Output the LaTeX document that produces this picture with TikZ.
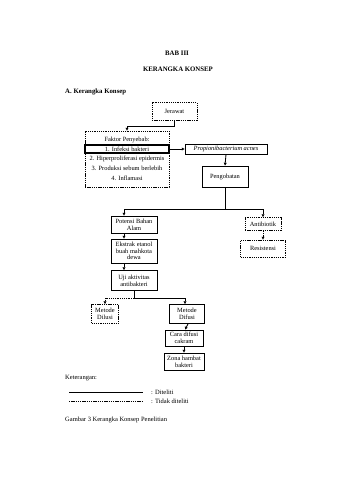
\documentclass[tikz,border=0pt]{standalone}
\usepackage{fontspec}
\setmainfont{Liberation Serif}
\usetikzlibrary{arrows.meta,calc}
\newcommand\dtext{\fontsize{6.4}{6.7}\selectfont}
\newcommand\htext{\fontsize{6.8}{7.5}\selectfont}
\newcommand\ltext{\fontsize{6.5}{7}\selectfont}
\tikzset{
  solidbox/.style={draw, line width=0.85pt, align=center, inner sep=0.5pt, font=\dtext},
  dashbox/.style={draw, line width=0.85pt, dash pattern=on 1.3pt off 0.9pt, align=center, inner sep=0.5pt, font=\dtext},
  lbl/.style={inner sep=0pt, font=\dtext},
  conn/.style={line width=0.85pt, -{Triangle[length=2.8pt,width=2.8pt]}},
  dconn/.style={conn, dash pattern=on 1.3pt off 0.9pt},
  plain/.style={line width=0.85pt},
  dplain/.style={line width=0.85pt, dash pattern=on 1.3pt off 0.9pt}
}
\begin{document}
\begin{tikzpicture}[x=1pt,y=-1pt]
\useasboundingbox[fill=white] (0,0) rectangle (339,480);
% headings
\node[inner sep=0pt, font=\htext\bfseries] (bab) at (177,53) {BAB III};
\node[inner sep=0pt, font=\htext\bfseries] (kk) at (178,69) {KERANGKA KONSEP};
\node[inner sep=0pt, font=\htext\bfseries, anchor=west] (ak) at (65,92) {A. Kerangka Konsep};
% top part
\node[dashbox, minimum width=45pt, minimum height=18pt] (jerawat) at (174.5,111.5) {Jerawat};
\node[dashbox, minimum width=84pt, minimum height=56pt] (faktor) at (127,159) {};
\node[lbl] (fp) at (127,139.5) {Faktor Penyebab:};
\node[solidbox, line width=1.3pt, minimum width=84pt, minimum height=8pt] (infeksi) at (127,149) {1. Infeksi bakteri};
\node[lbl] (hip) at (127,159) {2. Hiperproliferasi epidermis};
\node[lbl] (prod) at (127,168.5) {3. Produksi sebum berlebih};
\node[lbl] (infl) at (127,178) {4. Inflamasi};
\node[solidbox, minimum width=82pt, minimum height=10pt, font=\dtext\itshape] (prop) at (226,149) {Propionibacterium acnes};
\node[solidbox, minimum width=46pt, minimum height=21pt] (peng) at (225,176.5) {Pengobatan};
% left branch
\node[solidbox, minimum width=46pt, minimum height=17pt] (potensi) at (134,224.5) {Potensi Bahan\\Alam};
\node[solidbox, minimum width=46pt, minimum height=24pt] (ekstrak) at (134,251) {Ekstrak etanol\\buah mahkota\\dewa};
\node[solidbox, minimum width=46pt, minimum height=20pt] (uji) at (134,280.5) {Uji aktivitas\\antibakteri};
\node[dashbox, minimum width=27pt, minimum height=19pt] (dilusi) at (105,314) {Metode\\Dilusi};
\node[solidbox, minimum width=35pt, minimum height=19pt] (difusi) at (187,314) {Metode\\Difusi};
\node[solidbox, minimum width=38pt, minimum height=16pt] (cara) at (184,338) {Cara difusi\\cakram};
\node[solidbox, minimum width=40pt, minimum height=17pt] (zona) at (184,361.5) {Zona hambat\\bakteri};
% right branch
\node[dashbox, minimum width=36pt, minimum height=13pt] (antib) at (263,224) {Antibiotik};
\node[dashbox, minimum width=45pt, minimum height=17pt] (resist) at (263,248.5) {Resistensi};
% connectors
\draw[conn] (jerawat.south) -- ++(0,5) -| (faktor.north);
\draw[conn] (infeksi.east) -- (prop.west);
\draw[conn] (prop.south) -- (peng.north);
\draw[plain] (peng.south) -- ++(0,22) coordinate (pj);
\draw[conn] (pj) -| ([xshift=-10pt]potensi.north);
\draw[conn] (pj) -| (antib.north);
\draw[conn] ([xshift=-10pt]potensi.south) -- ([xshift=-10pt]ekstrak.north);
\draw[conn] ([xshift=-10pt]ekstrak.south) -- ([xshift=-10pt]uji.north);
\draw[plain] (uji.south) -- ++(0,7) coordinate (uj);
\draw[conn] (uj) -| ([xshift=-2pt]difusi.north);
\draw[dconn] (uj) -| (dilusi.north);
\draw[conn] ([xshift=1pt]difusi.south) -- ([xshift=1pt]cara.north);
\draw[conn] (cara.south) -- (zona.north);
\draw[dconn] (antib.south) -- (resist.north);
% legend
\node[inner sep=0pt, font=\ltext, anchor=west] (ket) at (65,378) {Keterangan:};
\coordinate (la) at (69,392);
\coordinate (lb) at (143,392);
\coordinate (lc) at (69,401.5);
\coordinate (ld) at (143,401.5);
\draw[plain] (la) -- (lb);
\draw[dplain] (lc) -- (ld);
\node[inner sep=0pt, font=\ltext, anchor=west] (dit) at (151,392) {: Diteliti};
\node[inner sep=0pt, font=\ltext, anchor=west] (tdit) at (151,401.5) {: Tidak diteliti};
\node[inner sep=0pt, font=\ltext, anchor=west] (cap) at (65,420) {Gambar 3 Kerangka Konsep Penelitian};
\end{tikzpicture}
\end{document}
